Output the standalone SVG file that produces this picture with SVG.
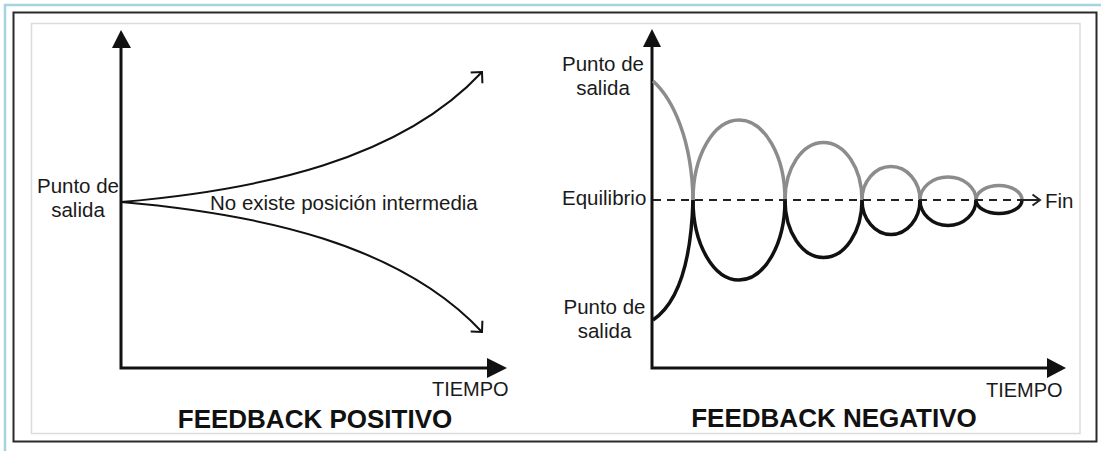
<svg xmlns="http://www.w3.org/2000/svg" width="1101" height="451" viewBox="0 0 1101 451">
<style>
  text { font-family: "Liberation Sans", Arial, sans-serif; fill: #1a1a1a; }
  .lbl { font-size: 20.5px; }
  .mid { text-anchor: middle; }
  .axis { font-size: 20px; }
  .title { font-size: 26px; font-weight: bold; text-anchor: middle; fill: #111; }
  .ax { stroke: #111; stroke-width: 3; fill: none; }
  .head { fill: #111; stroke: none; }
  .curve { stroke: #111; stroke-width: 2; fill: none; marker-end: url(#chev); }
  .gray { stroke: #8c8c8c; stroke-width: 3.5; fill: none; }
  .blk { stroke: #111; stroke-width: 3.5; fill: none; }
  .dash { stroke: #222; stroke-width: 2; fill: none; stroke-dasharray: 8 6; }
</style>
<defs>
  <marker id="chev" markerUnits="userSpaceOnUse" markerWidth="20" markerHeight="20" viewBox="0 0 20 20" refX="10" refY="10" orient="auto">
    <path d="M2,2 L10,10 L2,18" fill="none" stroke="#111" stroke-width="2"/>
  </marker>
  <marker id="chevS" markerUnits="userSpaceOnUse" markerWidth="16" markerHeight="16" viewBox="0 0 16 16" refX="9" refY="8" orient="auto">
    <path d="M1.5,2.5 L9,8 L1.5,13.5" fill="none" stroke="#222" stroke-width="2"/>
  </marker>
</defs>
<rect width="1101" height="451" fill="#ffffff"/>
<g id="frame">
  <path d="M5,451 V5 H1101" fill="none" stroke="#a6d3e0" stroke-width="2.5"/>
  <rect x="13.5" y="12.5" width="1083" height="429" fill="none" stroke="#2a2a2a" stroke-width="2"/>
  <rect x="31.5" y="23.5" width="1048.5" height="410" fill="none" stroke="#dcdcdc" stroke-width="1.5"/>
</g>
<g id="connectors">
  <!-- left chart axes -->
  <path class="ax" d="M121,46 V368 H490"/>
  <polygon class="head" points="121,30 112,48 131,48"/>
  <polygon class="head" points="507,368 487,358 487,378"/>
  <!-- positive feedback curves -->
  <path class="curve" d="M121,202 C260,190 400,160 482,72"/>
  <path class="curve" d="M121,202 C260,214 400,244 482,332"/>
  <!-- right chart axes -->
  <path class="ax" d="M652,45 V368 H1050"/>
  <polygon class="head" points="652,29 643,47 661,47"/>
  <polygon class="head" points="1066,368 1047,358 1047,378"/>
  <!-- negative feedback oscillation: gray (from above) -->
  <path class="gray" d="M653,81 C673,99 692,140 693,200"/>
  <path class="gray" d="M693,200 A46 80 0 0 1 785,200"/>
  <path class="gray" d="M785,200 A38.5 57.5 0 0 1 862,200"/>
  <path class="gray" d="M862,200 A29 33.5 0 0 1 920,200"/>
  <path class="gray" d="M920,200 A28 23 0 0 1 976,200"/>
  <path class="gray" d="M976,200 A23 14.5 0 0 1 1022,200"/>
  <!-- black (from below) -->
  <path class="blk" d="M653,320 C675,305 691,268 693,200"/>
  <path class="blk" d="M693,200 A46 80 0 0 0 785,200"/>
  <path class="blk" d="M785,200 A38.5 57.5 0 0 0 862,200"/>
  <path class="blk" d="M862,200 A29 34.5 0 0 0 920,200"/>
  <path class="blk" d="M920,200 A28 25.5 0 0 0 976,200"/>
  <path class="blk" d="M976,200 A23 13.5 0 0 0 1022,200"/>
  <!-- equilibrium line -->
  <path class="dash" d="M653,200 H1022"/>
  <path d="M1022,200 H1040" fill="none" stroke="#222" stroke-width="2" marker-end="url(#chevS)"/>
</g>
<g id="label-punto-left">
  <text class="lbl mid" x="78" y="193">Punto de</text>
  <text class="lbl mid" x="78" y="217">salida</text>
</g>
<g id="label-no-existe">
  <text class="lbl" x="210" y="210">No existe posición intermedia</text>
</g>
<g id="label-tiempo-left">
  <text class="axis" x="432" y="396">TIEMPO</text>
</g>
<g id="title-positivo">
  <text class="title" x="315" y="428">FEEDBACK POSITIVO</text>
</g>
<g id="label-punto-top">
  <text class="lbl mid" x="603" y="71">Punto de</text>
  <text class="lbl mid" x="603" y="95">salida</text>
</g>
<g id="label-equilibrio">
  <text class="lbl" x="562" y="205">Equilibrio</text>
</g>
<g id="label-punto-bottom">
  <text class="lbl mid" x="604.5" y="314">Punto de</text>
  <text class="lbl mid" x="604.5" y="338">salida</text>
</g>
<g id="label-fin">
  <text class="lbl" x="1045" y="207.5">Fin</text>
</g>
<g id="label-tiempo-right">
  <text class="axis" x="986" y="397">TIEMPO</text>
</g>
<g id="title-negativo">
  <text class="title" x="834" y="427">FEEDBACK NEGATIVO</text>
</g>
</svg>
